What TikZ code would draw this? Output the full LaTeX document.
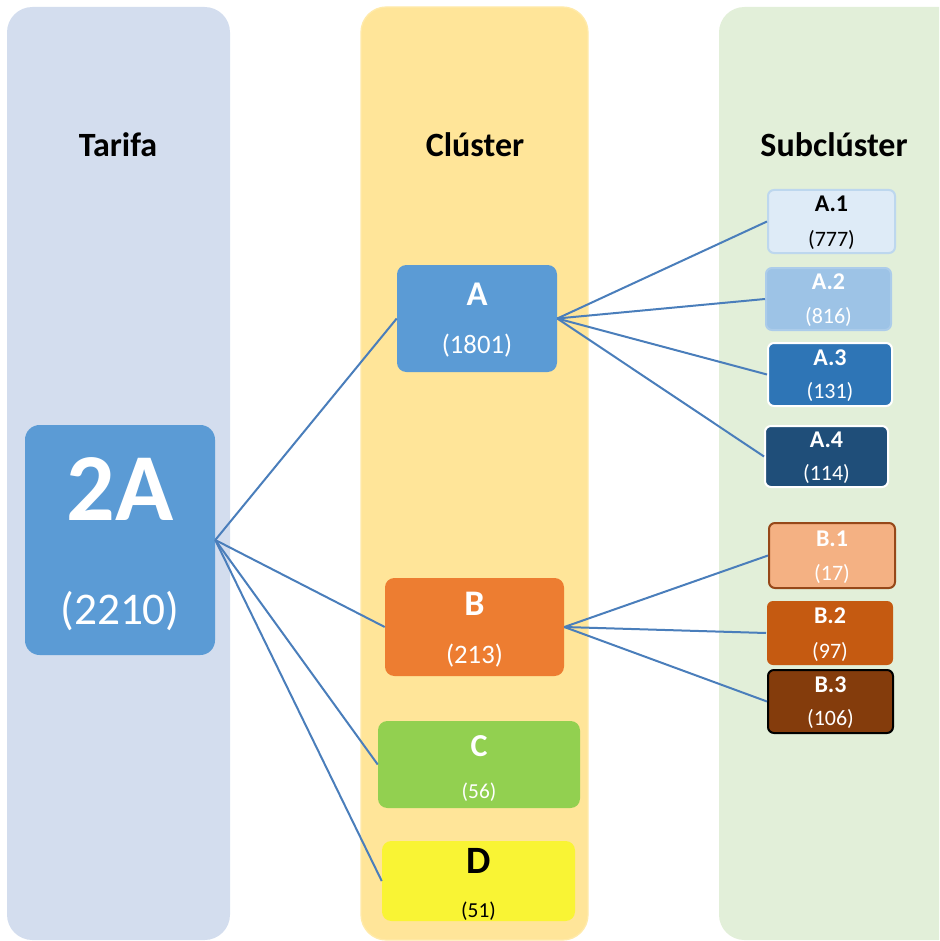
\documentclass[tikz,border=0pt]{standalone}
\usepackage{fontspec}
\setmainfont{Carlito}
\definecolor{panelT}{RGB}{211,221,238}
\definecolor{panelC}{RGB}{255,229,153}
\definecolor{panelCb}{RGB}{255,234,170}
\definecolor{panelS}{RGB}{226,239,217}
\definecolor{cblue}{RGB}{91,155,213}
\definecolor{corange}{RGB}{237,125,49}
\definecolor{cgreen}{RGB}{146,208,80}
\definecolor{cyellow}{RGB}{249,244,52}
\definecolor{sa1}{RGB}{222,235,247}
\definecolor{sa1b}{RGB}{189,215,238}
\definecolor{sa2}{RGB}{157,195,230}
\definecolor{sa2b}{RGB}{172,204,234}
\definecolor{sa3}{RGB}{46,117,182}
\definecolor{sa4}{RGB}{31,78,121}
\definecolor{sb1}{RGB}{244,177,131}
\definecolor{sb1b}{RGB}{150,72,25}
\definecolor{sb2}{RGB}{197,90,17}
\definecolor{sb3}{RGB}{132,60,12}
\definecolor{conn}{RGB}{74,126,187}
\begin{document}
\begin{tikzpicture}[x=0.75pt,y=-0.75pt,
  box/.style={rectangle,inner sep=0pt,draw=none},
  bigbox/.style={box,rounded corners=11pt},
  midbox/.style={box,rounded corners=7pt},
  smallbox/.style={box,rounded corners=4.5pt,line width=1.5pt},
  txt/.style={anchor=base,inner sep=0pt,text=white},
  header/.style={anchor=base,inner sep=0pt,font=\fontsize{25.5}{28}\selectfont\bfseries},
  link/.style={draw=conn,line width=1.5pt}]
\useasboundingbox (0,0) rectangle (939,941);
\clip (0,0) rectangle (939,941);
% panels
\fill[panelT,rounded corners=19pt] (7,7) rectangle (230,940);
\filldraw[fill=panelC,draw=panelCb,line width=1pt,rounded corners=19pt] (361,7) rectangle (588,940);
\fill[panelS,rounded corners=19pt] (719,7) rectangle (975,940);
% headers
\node[header] (hT) at (118,157) {Tarifa};
\node[header] (hC) at (475,157) {Clúster};
\node[header] (hS) at (834,157) {Subclúster};
% main nodes
\node[bigbox,fill=cblue,minimum width=142.5pt,minimum height=172.5pt] (T) at (120,540) {};
\node[midbox,fill=cblue,minimum width=120pt,minimum height=80.25pt] (A) at (477,318.5) {};
\node[midbox,fill=corange,minimum width=134.25pt,minimum height=73.5pt] (B) at (474.5,627) {};
\node[midbox,fill=cgreen,minimum width=151.5pt,minimum height=65.25pt] (C) at (479,764.5) {};
\node[midbox,fill=cyellow,minimum width=144.75pt,minimum height=60pt] (D) at (478.5,881) {};
% sub nodes
\node[smallbox,fill=sa1,draw=sa1b,minimum width=95.25pt,minimum height=47.25pt] (A1) at (831.5,221.5) {};
\node[smallbox,fill=sa2,draw=sa2b,minimum width=93.75pt,minimum height=46.5pt] (A2) at (828.5,299) {};
\node[smallbox,fill=sa3,draw=white,minimum width=93pt,minimum height=47.25pt] (A3) at (830,374.5) {};
\node[smallbox,fill=sa4,draw=white,minimum width=92.25pt,minimum height=45.75pt] (A4) at (826.5,456.5) {};
\node[smallbox,fill=sb1,draw=sb1b,minimum width=94.5pt,minimum height=48.75pt] (B1) at (832,555.5) {};
\node[smallbox,fill=sb2,minimum width=94.5pt,minimum height=48pt] (B2) at (830,633) {};
\node[smallbox,fill=sb3,draw=black,minimum width=93.75pt,minimum height=47.25pt] (B3) at (830.5,701.5) {};
% connectors
\draw[link] (T.east) -- (A.west);
\draw[link] (T.east) -- (B.west);
\draw[link] (T.east) -- (C.west);
\draw[link] (T.east) -- (D.west);
\draw[link] (A.east) -- (A1.west);
\draw[link] (A.east) -- (A2.west);
\draw[link] (A.east) -- (A3.west);
\draw[link] (A.east) -- (A4.west);
\draw[link] (B.east) -- (B1.west);
\draw[link] (B.east) -- (B2.west);
\draw[link] (B.east) -- (B3.west);
% texts
\node[txt,font=\fontsize{72}{80}\selectfont\bfseries] (Tt) at (120,520) {2A};
\node[txt,font=\fontsize{34}{40}\selectfont] (Tn) at (120,624) {(2210)};
\node[txt,font=\fontsize{26}{30}\selectfont\bfseries] (At) at (477,305) {A};
\node[txt,font=\fontsize{20}{24}\selectfont] (An) at (477,353) {(1801)};
\node[txt,font=\fontsize{27}{30}\selectfont\bfseries] (Bt) at (474.5,615) {B};
\node[txt,font=\fontsize{20}{24}\selectfont] (Bn) at (474.5,663) {(213)};
\node[txt,font=\fontsize{24}{28}\selectfont\bfseries] (Ct) at (479,756) {C};
\node[txt,font=\fontsize{16}{20}\selectfont] (Cn) at (479,798) {(56)};
\node[txt,text=black,font=\fontsize{29}{32}\selectfont\bfseries] (Dt) at (478.5,873) {D};
\node[txt,text=black,font=\fontsize{16}{20}\selectfont] (Dn) at (478.5,917) {(51)};
\node[txt,text=black,font=\fontsize{18}{20}\selectfont\bfseries] (A1t) at (831.5,212) {A.1};
\node[txt,text=black,font=\fontsize{16.5}{20}\selectfont] (A1n) at (831.5,247) {(777)};
\node[txt,font=\fontsize{18}{20}\selectfont\bfseries] (A2t) at (828.5,289) {A.2};
\node[txt,font=\fontsize{16.5}{20}\selectfont] (A2n) at (828.5,323) {(816)};
\node[txt,font=\fontsize{18}{20}\selectfont\bfseries] (A3t) at (830,365) {A.3};
\node[txt,font=\fontsize{16.5}{20}\selectfont] (A3n) at (830,398) {(131)};
\node[txt,font=\fontsize{18}{20}\selectfont\bfseries] (A4t) at (826.5,447) {A.4};
\node[txt,font=\fontsize{16.5}{20}\selectfont] (A4n) at (826.5,480) {(114)};
\node[txt,font=\fontsize{18}{20}\selectfont\bfseries] (B1t) at (832,546) {B.1};
\node[txt,font=\fontsize{16.5}{20}\selectfont] (B1n) at (832,580) {(17)};
\node[txt,font=\fontsize{18}{20}\selectfont\bfseries] (B2t) at (830,623) {B.2};
\node[txt,font=\fontsize{16.5}{20}\selectfont] (B2n) at (830,658) {(97)};
\node[txt,font=\fontsize{18}{20}\selectfont\bfseries] (B3t) at (830.5,692) {B.3};
\node[txt,font=\fontsize{16.5}{20}\selectfont] (B3n) at (830.5,725) {(106)};
\end{tikzpicture}
\end{document}
